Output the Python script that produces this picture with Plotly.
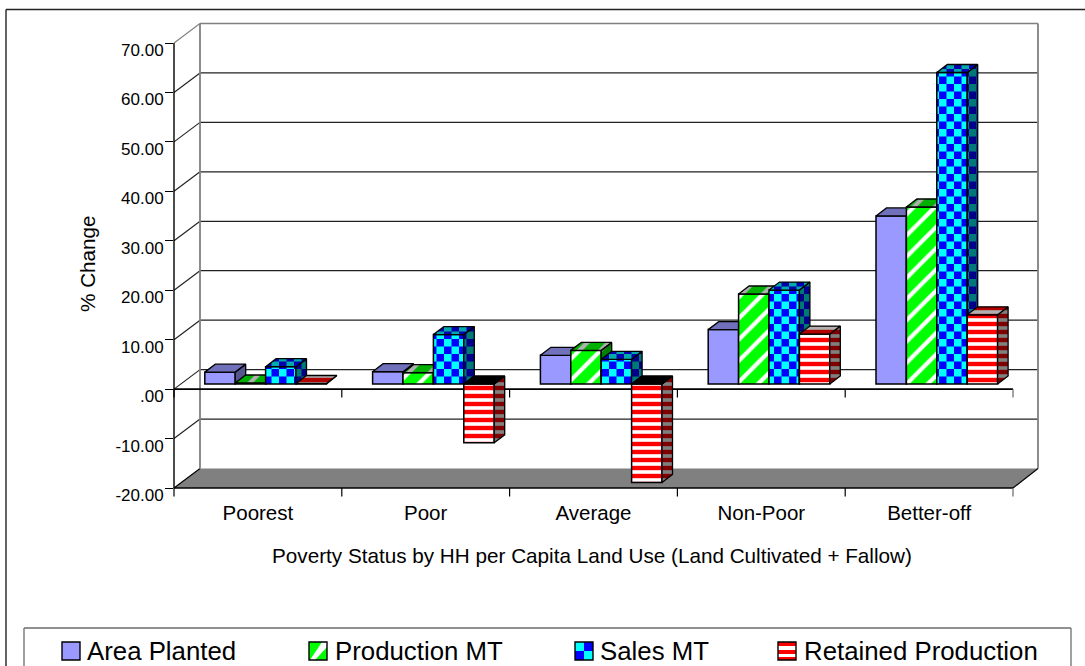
import plotly.graph_objects as go

categories = ["Poorest", "Poor", "Average", "Non-Poor", "Better-off"]
area_planted = [2.4, 2.5, 5.8, 11.0, 34.0]
production_mt = [0.2, 2.3, 6.8, 18.2, 35.8]
sales_mt = [3.5, 10.0, 5.0, 19.0, 63.0]
retained_production = [0.1, -11.9, -19.9, 10.1, 14.0]
y_ticks = [-20, -10, 0, 10, 20, 30, 40, 50, 60, 70]
y_tick_labels = ["-20.00", "-10.00", ".00", "10.00", "20.00", "30.00", "40.00", "50.00", "60.00", "70.00"]

# Pixel geometry of the pseudo-3D frame
W, H = 1085, 666
PX_L, PX_R, PX_T, PX_B = 174, 1038, 24, 488
PX_FRONT_R = 1013
GROUP_PX = (PX_FRONT_R - PX_L) / 5
UNIT_PX = (488 - 43) / 90
X_MAX = (PX_R - PX_L) / GROUP_PX
Y_MAX = 70 + 19 / UNIT_PX
Y_MIN = -20
WALL_DX, WALL_DY = 26 / GROUP_PX, 19.5 / UNIT_PX
BAR_W = 30.4 / GROUP_PX
GROUP_START = 30.8 / GROUP_PX
BASE = 5.1 / UNIT_PX
DX, DY = 10.5 / GROUP_PX, 8 / UNIT_PX
CHECK = 15
CHECK_PATH = "M0,0H7.5V7.5H0Z M7.5,7.5H15V15H7.5Z"


def px(x):
    return (x - PX_L) / (PX_R - PX_L)


def py(y):
    return (PX_B - y) / (PX_B - PX_T)


def dx_paper(x):
    return x * GROUP_PX / (PX_R - PX_L)


def dy_paper(v):
    return (v - Y_MIN) * UNIT_PX / (PX_B - PX_T)


def pat(shape, fg, bg, size, solidity):
    return dict(shape=shape, fgcolor=fg, bgcolor=bg, size=size, solidity=solidity, fillmode="replace")


def check(fg, bg):
    return dict(path=CHECK_PATH, fgcolor=fg, bgcolor=bg, size=CHECK, solidity=1, fillmode="replace")


styles = [
    dict(name="Area Planted", values=area_planted,
         front=dict(color="#9999ff"),
         top=dict(bg="#7070bb"),
         side=dict(bg="#555590")),
    dict(name="Production MT", values=production_mt,
         front=dict(pattern=pat("/", "#00ff00", "#ffffff", 15, 0.72)),
         top=dict(pattern=pat("/", "#00b000", "#b0b0b0", 15, 0.72), bg="#00b000"),
         side=dict(pattern=pat("/", "#008000", "#808080", 15, 0.72), bg="#008000")),
    dict(name="Sales MT", values=sales_mt,
         front=dict(pattern=check("#00ffff", "#0000ff")),
         top=dict(pattern=check("#00aaaa", "#0000b0"), bg="#0000b0"),
         side=dict(pattern=check("#007878", "#00008b"), bg="#00008b")),
    dict(name="Retained Production", values=retained_production,
         front=dict(pattern=pat("-", "#ff0000", "#ffffff", 8, 0.55)),
         top=dict(pattern=pat("-", "#b00000", "#b0b0b0", 8, 0.55), bg="#b00000"),
         side=dict(pattern=pat("-", "#800000", "#808080", 8, 0.55), bg="#800000")),
]
axis_slots = [("x", "y"), ("x2", "y2"), ("x3", "y3"), ("x4", "y4")]

fig = go.Figure()


def face_trace(xs, ys, spec, xa, ya):
    kw = dict(fillcolor=spec["bg"])
    if "pattern" in spec:
        kw["fillpattern"] = spec["pattern"]
    return go.Scatter(x=xs, y=ys, mode="lines", fill="toself", line=dict(color="black", width=1.3),
                      xaxis=xa, yaxis=ya, hoverinfo="skip", showlegend=False, **kw)


for s, (st, (xa, ya)) in enumerate(zip(styles, axis_slots)):
    xl = [i + GROUP_START + s * BAR_W for i in range(5)]
    xr = [v + BAR_W for v in xl]
    xc = [v + BAR_W / 2 for v in xl]
    fig.add_trace(go.Bar(x=xc, y=st["values"], base=BASE, width=BAR_W, name=st["name"],
                         marker=dict(line=dict(color="black", width=1.5), **st["front"]),
                         xaxis=xa, yaxis=ya, showlegend=False))
    sx, sy, tx, ty, nx, ny = [], [], [], [], [], []
    for i, v in enumerate(st["values"]):
        top = BASE + v
        sx += [xr[i], xr[i] + DX, xr[i] + DX, xr[i], xr[i], None]
        sy += [BASE, BASE + DY, top + DY, top, BASE, None]
        level = max(top, BASE)
        rx = [xl[i], xl[i] + DX, xr[i] + DX, xr[i], xl[i], None]
        ry = [level, level + DY, level + DY, level, level, None]
        if v >= 0:
            tx += rx
            ty += ry
        else:
            nx += rx
            ny += ry
    fig.add_trace(face_trace(sx, sy, st["side"], xa, ya))
    fig.add_trace(face_trace(tx, ty, st["top"], xa, ya))
    if nx:
        fig.add_trace(face_trace(nx, ny, dict(bg="black"), xa, ya))

# ------- frame shapes (paper coordinates derived from the axis mapping)
shapes = []


def line(x0, y0, x1, y1, color="black", width=1.2, layer="below"):
    shapes.append(dict(type="line", xref="paper", yref="paper", x0=x0, y0=y0, x1=x1, y1=y1,
                       line=dict(color=color, width=width), layer=layer))


def rect(x0, y0, x1, y1, fill, lc=None, lw=0, layer="below"):
    shapes.append(dict(type="rect", xref="paper", yref="paper", x0=px(x0), y0=py(y0), x1=px(x1), y1=py(y1),
                       fillcolor=fill, line=dict(color=lc or fill, width=lw), layer=layer))


wall_x = WALL_DX * GROUP_PX
# floor
shapes.append(dict(type="path", xref="paper", yref="paper", layer="below",
                   path=f"M {px(PX_L)},{py(488)} L {px(PX_L + wall_x)},{py(468.5)} L {px(PX_R)},{py(468.5)} "
                        f"L {px(PX_FRONT_R)},{py(488)} Z",
                   fillcolor="#808080", line=dict(width=0)))
back_x0 = px(PX_L + wall_x)
# back-wall gridlines and left-wall diagonals
for v in y_ticks:
    yb = dy_paper(v + WALL_DY)
    yf = dy_paper(v)
    col = "#808080" if v == 70 else "#222222"
    if v != -20:
        line(back_x0, yb, 1, yb, color=col, width=1.6 if v == 70 else 1.2)
    line(0, yf, back_x0, yb, color=col if v != -20 else "black", width=1.2)
line(back_x0, dy_paper(70 + WALL_DY), back_x0, dy_paper(-20 + WALL_DY), color="#808080", width=1.8)
line(1, dy_paper(70 + WALL_DY), 1, dy_paper(-20 + WALL_DY), color="#808080", width=1.8)
# front axes
line(0, dy_paper(-20), 0, dy_paper(70), width=1.4)
line(0, dy_paper(-20), dx_paper(5), dy_paper(-20), width=1.6)
line(dx_paper(5), dy_paper(-20), 1, dy_paper(-20 + WALL_DY), width=1.2)
line(0, dy_paper(0), dx_paper(5), dy_paper(0), width=1.6)
tick_len = 8.5 / (PX_B - PX_T)
for i in range(6):
    c = "black" if i < 5 else "#666666"
    line(dx_paper(i), dy_paper(0), dx_paper(i), dy_paper(0) - tick_len, color=c)
    line(dx_paper(i), dy_paper(-20), dx_paper(i), dy_paper(-20) - tick_len, color=c)

# outer chart border
line(px(6), py(9.5), px(1085), py(9.5), color="#222222", width=1.6)
line(px(6), py(9.5), px(6), py(666), color="#222222", width=1.4)
# legend box
line(px(24), py(628), px(1071), py(628), color="#222222", width=1.2)
line(px(24), py(628), px(24), py(666), color="#777777", width=1.4)
line(px(1071), py(628), px(1071), py(666), color="#777777", width=1.4)

# legend swatches
SW_Y0, SW_Y1 = 642, 660
lg_swatch_x = [62, 309, 575, 778]
lg_text_x = [87, 335, 600, 804]
rect(62, SW_Y0, 80, SW_Y1, "#9999ff")
x0 = lg_swatch_x[1]
rect(x0, SW_Y0, x0 + 18, SW_Y1, "#00ff00")
shapes.append(dict(type="path", xref="paper", yref="paper", layer="below", fillcolor="#ffffff", line=dict(width=0),
                   path=f"M {px(x0+1)},{py(SW_Y1)} L {px(x0+6)},{py(SW_Y1)} L {px(x0+18)},{py(SW_Y0+5)} "
                        f"L {px(x0+18)},{py(SW_Y0)} L {px(x0+13)},{py(SW_Y0)} Z"))
x0 = lg_swatch_x[2]
rect(x0, SW_Y0, x0 + 18, SW_Y1, "#0000ff")
rect(x0, SW_Y0, x0 + 9, SW_Y0 + 9, "#00ffff")
rect(x0 + 9, SW_Y0 + 9, x0 + 18, SW_Y1, "#00ffff")
x0 = lg_swatch_x[3]
rect(x0, SW_Y0, x0 + 18, SW_Y1, "#ff0000")
rect(x0, SW_Y0 + 4, x0 + 18, SW_Y0 + 8, "#ffffff")
rect(x0, SW_Y0 + 12, x0 + 18, SW_Y0 + 15, "#ffffff")
for x0 in lg_swatch_x:
    shapes.append(dict(type="rect", xref="paper", yref="paper", x0=px(x0), y0=py(SW_Y0), x1=px(x0 + 18), y1=py(SW_Y1),
                       line=dict(color="black", width=1.4), fillcolor="rgba(0,0,0,0)", layer="below"))

FONT = "Liberation Sans, Arial, sans-serif"
annotations = [
    dict(text="% Change", xref="paper", yref="paper", x=px(87), y=py(264), textangle=-90,
         showarrow=False, font=dict(family=FONT, size=20.7, color="black"), xanchor="center", yanchor="middle"),
    dict(text="Poverty Status by HH per Capita Land Use (Land Cultivated + Fallow)", xref="paper", yref="paper",
         x=px(592), y=py(555), showarrow=False, font=dict(family=FONT, size=20.7, color="black"),
         xanchor="center", yanchor="middle"),
]
for st, tx in zip(styles, lg_text_x):
    annotations.append(dict(text=st["name"], xref="paper", yref="paper", x=px(tx), y=py(651), showarrow=False,
                            xanchor="left", yanchor="middle", xshift=-2,
                            font=dict(family=FONT, size=25.8, color="black")))

layout = dict(
    width=W, height=H, autosize=False,
    margin=dict(l=PX_L, r=W - PX_R, t=PX_T, b=H - PX_B, pad=0),
    paper_bgcolor="white", plot_bgcolor="rgba(0,0,0,0)", barmode="overlay",
    showlegend=False, shapes=shapes, annotations=annotations,
    xaxis=dict(range=[0, X_MAX], tickmode="array", tickvals=[i + 0.5 for i in range(5)], ticktext=categories,
               ticks="outside", ticklen=6, tickcolor="rgba(0,0,0,0)", showgrid=False, zeroline=False, showline=False,
               tickfont=dict(family=FONT, size=20.5, color="black"), fixedrange=True, automargin=False),
    yaxis=dict(range=[Y_MIN, Y_MAX], tickmode="array", tickvals=y_ticks, ticktext=y_tick_labels, ticks="outside",
               ticklen=8, tickwidth=1.2, tickcolor="black", showgrid=False, zeroline=False, showline=False,
               ticklabelstandoff=-2, ticklabelshift=7,
               tickfont=dict(family=FONT, size=17, color="black"), fixedrange=True, automargin=False),
)
for n in (2, 3, 4):
    layout[f"xaxis{n}"] = dict(range=[0, X_MAX], visible=False, anchor=f"y{n}", fixedrange=True)
    layout[f"yaxis{n}"] = dict(range=[Y_MIN, Y_MAX], visible=False, anchor=f"x{n}", fixedrange=True)
fig.update_layout(**layout)

fig.write_html("out.html", config=dict(displayModeBar=False),
               post_script="document.body.style.margin='0';document.body.style.overflow='hidden';")
